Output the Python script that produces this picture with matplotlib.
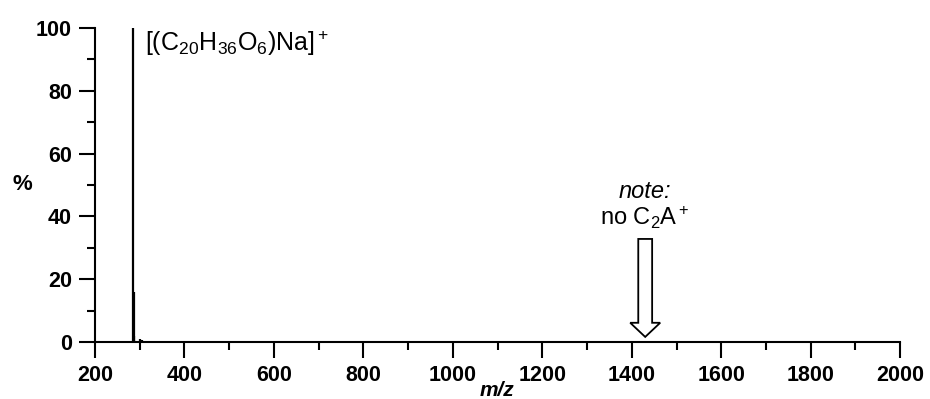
import numpy as np
import matplotlib.pyplot as plt
from matplotlib.patches import FancyArrow
from matplotlib.ticker import MultipleLocator

plt.rcParams['font.family'] = ['Liberation Sans', 'DejaVu Sans']
plt.rcParams['mathtext.fontset'] = 'custom'
plt.rcParams['mathtext.rm'] = 'Liberation Sans'
plt.rcParams['mathtext.it'] = 'Liberation Sans:italic'
plt.rcParams['mathtext.bf'] = 'Liberation Sans:bold'

# espectro de massa (m/z, intensidade relativa %)
mz = [285.5, 287.0, 288.5, 302.0, 305.0, 330.0, 609.0, 645.0, 660.0, 743.0, 858.0, 868.0]
intensidade = [100.0, 16.0, 2.0, 1.0, 0.6, 0.4, 0.4, 0.4, 0.4, 0.3, 0.4, 0.4]

pos_seta = 1430
rotulo_pico = r'[(C$_{20}$H$_{36}$O$_6$)Na]$^+$'

fig = plt.figure(figsize=(9.3, 3.99), dpi=100)
ax = fig.add_axes([0.102, 0.143, 0.866, 0.787])

ax.vlines(mz, 0, intensidade, color='black', lw=1.6, clip_on=False)

ax.set_xlim(200, 2000)
ax.set_ylim(0, 100)
ax.xaxis.set_major_locator(MultipleLocator(200))
ax.xaxis.set_minor_locator(MultipleLocator(100))
ax.yaxis.set_major_locator(MultipleLocator(20))
ax.yaxis.set_minor_locator(MultipleLocator(10))

for lado in ['top', 'right']:
    ax.spines[lado].set_visible(False)
for lado in ['left', 'bottom']:
    ax.spines[lado].set_linewidth(1.5)

ax.tick_params(which='major', length=11.5, width=1.5, direction='out', pad=5,
               labelsize=15.5)
ax.tick_params(which='minor', length=6, width=1.5, direction='out')
for lab in ax.get_xticklabels() + ax.get_yticklabels():
    lab.set_fontweight('bold')

ax.text(-0.09, 0.5, '%', transform=ax.transAxes, fontsize=16, fontweight='bold',
        ha='center', va='center')
ax.text(1099, -15.5, 'm/z', fontsize=15, fontweight='bold', style='italic',
        ha='center', va='center', clip_on=False)

ax.text(311, 95, rotulo_pico, fontsize=18, ha='left', va='center')

ax.text(pos_seta, 47.8, 'note:', fontsize=17, style='italic', ha='center', va='center')
ax.text(pos_seta, 39.5, r'no C$_2$A$^+$', fontsize=17, ha='center', va='center')

seta = FancyArrow(pos_seta, 32.8, 0, -31.2, width=31, head_width=67, head_length=4.5,
                  length_includes_head=True, fc='white', ec='black', lw=1.3)
ax.add_patch(seta)

fig.savefig('out.png', dpi=100)
